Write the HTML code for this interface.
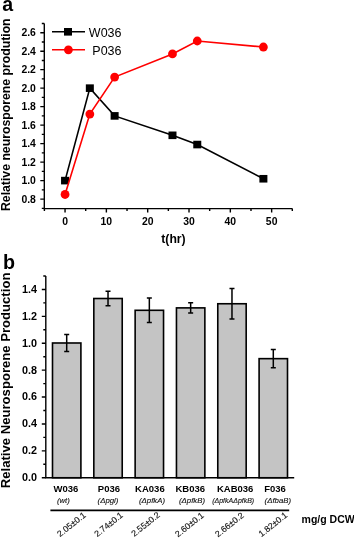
<!DOCTYPE html><html><head><meta charset="utf-8"><style>html,body{margin:0;padding:0;background:#fff;}svg{display:block;will-change:transform}text{font-family:"Liberation Sans",sans-serif;}</style></head><body>
<svg width="354" height="538" viewBox="0 0 354 538">
<rect width="354" height="538" fill="#fff"/>
<path d="M44.3 23.44V208.6H292.31" fill="none" stroke="#000" stroke-width="1.4"/>
<path d="M41.8 208.34H44.3M40.3 199.1H44.3M41.8 189.85H44.3M40.3 180.61H44.3M41.8 171.36H44.3M40.3 162.12H44.3M41.8 152.88H44.3M40.3 143.63H44.3M41.8 134.38H44.3M40.3 125.14H44.3M41.8 115.89H44.3M40.3 106.65H44.3M41.8 97.41H44.3M40.3 88.16H44.3M41.8 78.91H44.3M40.3 69.67H44.3M41.8 60.43H44.3M40.3 51.18H44.3M41.8 41.94H44.3M40.3 32.69H44.3M41.8 23.44H44.3M44.39 208.6V211.1M65.05 208.6V212.6M85.71 208.6V211.1M106.37 208.6V212.6M127.03 208.6V211.1M147.69 208.6V212.6M168.35 208.6V211.1M189.01 208.6V212.6M209.67 208.6V211.1M230.33 208.6V212.6M250.99 208.6V211.1M271.65 208.6V212.6M292.31 208.6V211.1" stroke="#000" stroke-width="1.4"/>
<text x="35.9" y="202.8" font-size="10.4" font-weight="bold" text-anchor="end">0.8</text>
<text x="35.9" y="184.31" font-size="10.4" font-weight="bold" text-anchor="end">1.0</text>
<text x="35.9" y="165.82" font-size="10.4" font-weight="bold" text-anchor="end">1.2</text>
<text x="35.9" y="147.33" font-size="10.4" font-weight="bold" text-anchor="end">1.4</text>
<text x="35.9" y="128.84" font-size="10.4" font-weight="bold" text-anchor="end">1.6</text>
<text x="35.9" y="110.35" font-size="10.4" font-weight="bold" text-anchor="end">1.8</text>
<text x="35.9" y="91.86" font-size="10.4" font-weight="bold" text-anchor="end">2.0</text>
<text x="35.9" y="73.37" font-size="10.4" font-weight="bold" text-anchor="end">2.2</text>
<text x="35.9" y="54.88" font-size="10.4" font-weight="bold" text-anchor="end">2.4</text>
<text x="35.9" y="36.39" font-size="10.4" font-weight="bold" text-anchor="end">2.6</text>
<text x="65.05" y="224.8" font-size="10.4" font-weight="bold" text-anchor="middle">0</text>
<text x="106.37" y="224.8" font-size="10.4" font-weight="bold" text-anchor="middle">10</text>
<text x="147.69" y="224.8" font-size="10.4" font-weight="bold" text-anchor="middle">20</text>
<text x="189.01" y="224.8" font-size="10.4" font-weight="bold" text-anchor="middle">30</text>
<text x="230.33" y="224.8" font-size="10.4" font-weight="bold" text-anchor="middle">40</text>
<text x="271.65" y="224.8" font-size="10.4" font-weight="bold" text-anchor="middle">50</text>
<text x="173.5" y="243" font-size="12.2" font-weight="bold" text-anchor="middle">t(hr)</text>
<text transform="translate(10.3,211) rotate(-90)" font-size="12.3" font-weight="bold" textLength="192.6" lengthAdjust="spacingAndGlyphs">Relative neurosporene prodution</text>
<text transform="translate(2.2,11.2) scale(0.95,1)" font-size="20.6" font-weight="bold">a</text>
<polyline points="65.05,180.61 89.84,88.16 114.63,115.89 172.48,135.31 197.27,144.55 263.39,178.76" fill="none" stroke="#000" stroke-width="1.6"/>
<rect x="61.05" y="176.81" width="8" height="7.6" fill="#000"/>
<rect x="85.84" y="84.36" width="8" height="7.6" fill="#000"/>
<rect x="110.63" y="112.09" width="8" height="7.6" fill="#000"/>
<rect x="168.48" y="131.51" width="8" height="7.6" fill="#000"/>
<rect x="193.27" y="140.75" width="8" height="7.6" fill="#000"/>
<rect x="259.39" y="174.96" width="8" height="7.6" fill="#000"/>
<polyline points="65.05,194.48 89.84,114.05 114.63,77.07 172.48,53.95 197.27,41.01 263.39,47.02" fill="none" stroke="#f00" stroke-width="1.6"/>
<circle cx="65.05" cy="194.48" r="4.4" fill="#f00"/>
<circle cx="89.84" cy="114.05" r="4.4" fill="#f00"/>
<circle cx="114.63" cy="77.07" r="4.4" fill="#f00"/>
<circle cx="172.48" cy="53.95" r="4.4" fill="#f00"/>
<circle cx="197.27" cy="41.01" r="4.4" fill="#f00"/>
<circle cx="263.39" cy="47.02" r="4.4" fill="#f00"/>
<path d="M52 31.8H85" stroke="#000" stroke-width="1.4"/><rect x="64" y="28" width="8" height="7.6" fill="#000"/>
<path d="M52 49.8H85" stroke="#f00" stroke-width="1.4"/><circle cx="68.4" cy="49.8" r="4.4" fill="#f00"/>
<text x="121.5" y="36.9" font-size="12.5" text-anchor="end">W036</text>
<text x="121.5" y="55.3" font-size="12.5" text-anchor="end">P036</text>
<text x="3" y="268.6" font-size="19.7" font-weight="bold">b</text>
<text transform="translate(9.8,488.2) rotate(-90)" font-size="13" font-weight="bold" textLength="215.6" lengthAdjust="spacingAndGlyphs">Relative Neurosporene Production</text>
<rect x="52.5" y="342.99" width="28.4" height="134.76" fill="#c4c4c4" stroke="#000" stroke-width="1.6"/>
<path d="M66.7 334.49V351.49M64.2 334.49H69.2M64.2 351.49H69.2" stroke="#000" stroke-width="1.5"/>
<text x="65.9" y="492.3" font-size="9.5" font-weight="bold" text-anchor="middle">W036</text>
<text x="63.4" y="503.4" font-size="7.8" font-style="italic" fill="#111" stroke="#111" stroke-width="0.12" text-anchor="middle">(wt)</text>
<text transform="translate(60.1,537.2) rotate(-38.5)" font-size="8.7" fill="#111" stroke="#111" stroke-width="0.15">2.05±0.1</text>
<rect x="93.82" y="298.5" width="28.4" height="179.25" fill="#c4c4c4" stroke="#000" stroke-width="1.6"/>
<path d="M108.02 291.25V305.75M105.52 291.25H110.52M105.52 305.75H110.52" stroke="#000" stroke-width="1.5"/>
<text x="108.9" y="492.3" font-size="9.5" font-weight="bold" text-anchor="middle">P036</text>
<text x="108" y="503.4" font-size="7.8" font-style="italic" fill="#111" stroke="#111" stroke-width="0.12" text-anchor="middle">(Δpgi)</text>
<text transform="translate(97.2,537.2) rotate(-38.5)" font-size="8.7" fill="#111" stroke="#111" stroke-width="0.15">2.74±0.1</text>
<rect x="135.14" y="310.3" width="28.4" height="167.45" fill="#c4c4c4" stroke="#000" stroke-width="1.6"/>
<path d="M149.34 297.99V322.6M146.84 297.99H151.84M146.84 322.6H151.84" stroke="#000" stroke-width="1.5"/>
<text x="149.9" y="492.3" font-size="9.5" font-weight="bold" text-anchor="middle">KA036</text>
<text x="152" y="503.4" font-size="7.8" font-style="italic" fill="#111" stroke="#111" stroke-width="0.12" text-anchor="middle">(ΔpfkA)</text>
<text transform="translate(134.2,537.1) rotate(-38.5)" font-size="8.7" fill="#111" stroke="#111" stroke-width="0.15">2.55±0.2</text>
<rect x="176.46" y="307.88" width="28.4" height="169.87" fill="#c4c4c4" stroke="#000" stroke-width="1.6"/>
<path d="M190.66 302.64V313.11M188.16 302.64H193.16M188.16 313.11H193.16" stroke="#000" stroke-width="1.5"/>
<text x="190.3" y="492.3" font-size="9.5" font-weight="bold" text-anchor="middle">KB036</text>
<text x="192" y="503.4" font-size="7.8" font-style="italic" fill="#111" stroke="#111" stroke-width="0.12" text-anchor="middle">(ΔpfkB)</text>
<text transform="translate(178.1,537.4) rotate(-38.5)" font-size="8.7" fill="#111" stroke="#111" stroke-width="0.15">2.60±0.1</text>
<rect x="217.78" y="303.75" width="28.4" height="174" fill="#c4c4c4" stroke="#000" stroke-width="1.6"/>
<path d="M231.98 288.6V318.89M229.48 288.6H234.48M229.48 318.89H234.48" stroke="#000" stroke-width="1.5"/>
<text x="235.2" y="492.3" font-size="9.5" font-weight="bold" text-anchor="middle">KAB036</text>
<text x="233.2" y="503.4" font-size="7.8" font-style="italic" fill="#111" stroke="#111" stroke-width="0.12" text-anchor="middle" textLength="42" lengthAdjust="spacingAndGlyphs">(ΔpfkAΔpfkB)</text>
<text transform="translate(218.1,537.6) rotate(-38.5)" font-size="8.7" fill="#111" stroke="#111" stroke-width="0.15">2.66±0.2</text>
<rect x="259.1" y="358.65" width="28.4" height="119.1" fill="#c4c4c4" stroke="#000" stroke-width="1.6"/>
<path d="M273.3 349.5V367.8M270.8 349.5H275.8M270.8 367.8H275.8" stroke="#000" stroke-width="1.5"/>
<text x="275" y="492.3" font-size="9.5" font-weight="bold" text-anchor="middle">F036</text>
<text x="277.8" y="503.4" font-size="7.8" font-style="italic" fill="#111" stroke="#111" stroke-width="0.12" text-anchor="middle">(ΔfbaB)</text>
<text transform="translate(261.6,537.2) rotate(-38.5)" font-size="8.7" fill="#111" stroke="#111" stroke-width="0.15">1.82±0.1</text>
<path d="M45.8 276V477.75H294.2" fill="none" stroke="#000" stroke-width="1.4"/>
<path d="M41.8 477.75H45.8M43.3 464.3H45.8M41.8 450.85H45.8M43.3 437.4H45.8M41.8 423.95H45.8M43.3 410.5H45.8M41.8 397.05H45.8M43.3 383.6H45.8M41.8 370.15H45.8M43.3 356.7H45.8M41.8 343.25H45.8M43.3 329.8H45.8M41.8 316.35H45.8M43.3 302.9H45.8M41.8 289.45H45.8M43.3 276H45.8" stroke="#000" stroke-width="1.4"/>
<text x="37.1" y="481.15" font-size="10.8" font-weight="bold" text-anchor="end">0.0</text>
<text x="37.1" y="454.25" font-size="10.8" font-weight="bold" text-anchor="end">0.2</text>
<text x="37.1" y="427.35" font-size="10.8" font-weight="bold" text-anchor="end">0.4</text>
<text x="37.1" y="400.45" font-size="10.8" font-weight="bold" text-anchor="end">0.6</text>
<text x="37.1" y="373.55" font-size="10.8" font-weight="bold" text-anchor="end">0.8</text>
<text x="37.1" y="346.65" font-size="10.8" font-weight="bold" text-anchor="end">1.0</text>
<text x="37.1" y="319.75" font-size="10.8" font-weight="bold" text-anchor="end">1.2</text>
<text x="37.1" y="292.85" font-size="10.8" font-weight="bold" text-anchor="end">1.4</text>
<path d="M50.4 510.4H289.2" stroke="#000" stroke-width="1.6"/>
<text x="301.6" y="522.8" font-size="10.5" font-weight="bold">mg/g DCW</text>
</svg></body></html>
